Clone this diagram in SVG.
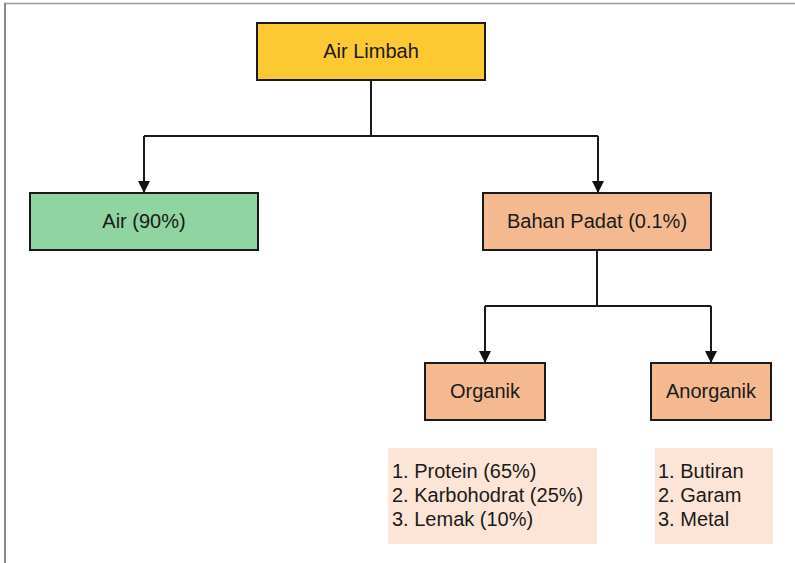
<svg xmlns="http://www.w3.org/2000/svg" width="795" height="563" viewBox="0 0 795 563">
<defs>
<marker id="arr" markerWidth="12" markerHeight="14" refX="11" refY="6" orient="auto" markerUnits="userSpaceOnUse" viewBox="0 0 12 12">
<path d="M0,0 L12,6 L0,12 Z" fill="#111"/>
</marker>
<style>
.box{stroke:#1a1a1a;stroke-width:2}
.t{font-family:"Liberation Sans",Arial,sans-serif;font-size:20px;fill:#1a1a1a;text-anchor:middle}
.l{font-family:"Liberation Sans",Arial,sans-serif;font-size:20px;fill:#1a1a1a}
.c{fill:none;stroke:#1a1a1a;stroke-width:2}
</style>
</defs>
<rect width="795" height="563" fill="#fff"/>
<g id="frame">
<line x1="4" y1="3.5" x2="795" y2="3.5" stroke="#999" stroke-width="1.5"/>
<line x1="5" y1="3" x2="5" y2="563" stroke="#888" stroke-width="2"/>
</g>
<g id="connectors">
<polyline class="c" points="371,80 371,136"/>
<polyline class="c" points="144,136 598,136"/>
<line class="c" x1="144" y1="136" x2="144" y2="192" marker-end="url(#arr)"/>
<line class="c" x1="598" y1="136" x2="598" y2="192" marker-end="url(#arr)"/>
<polyline class="c" points="597,250 597,306"/>
<polyline class="c" points="485,306 711,306"/>
<line class="c" x1="485" y1="306" x2="485" y2="362" marker-end="url(#arr)"/>
<line class="c" x1="711" y1="306" x2="711" y2="362" marker-end="url(#arr)"/>
</g>
<g id="air-limbah">
<rect class="box" x="257" y="23" width="228" height="57" fill="#fdc932"/>
<text class="t" x="371" y="58">Air Limbah</text>
</g>
<g id="air">
<rect class="box" x="30" y="193" width="228" height="57" fill="#8fd4a1"/>
<text class="t" x="144" y="228">Air (90%)</text>
</g>
<g id="bahan-padat">
<rect class="box" x="483" y="193" width="228" height="57" fill="#f5b991"/>
<text class="t" x="597" y="228">Bahan Padat (0.1%)</text>
</g>
<g id="organik">
<rect class="box" x="425" y="363" width="120" height="57" fill="#f5b991"/>
<text class="t" x="485" y="398">Organik</text>
</g>
<g id="anorganik">
<rect class="box" x="651" y="363" width="120" height="57" fill="#f5b991"/>
<text class="t" x="711" y="398">Anorganik</text>
</g>
<g id="organik-list">
<rect x="388" y="448" width="209" height="96" fill="#fce4d6"/>
<text class="l" x="392" y="478">1. Protein (65%)</text>
<text class="l" x="392" y="502">2. Karbohodrat (25%)</text>
<text class="l" x="392" y="526">3. Lemak (10%)</text>
</g>
<g id="anorganik-list">
<rect x="655" y="448" width="118" height="96" fill="#fce4d6"/>
<text class="l" x="658" y="478">1. Butiran</text>
<text class="l" x="658" y="502">2. Garam</text>
<text class="l" x="658" y="526">3. Metal</text>
</g>
</svg>
